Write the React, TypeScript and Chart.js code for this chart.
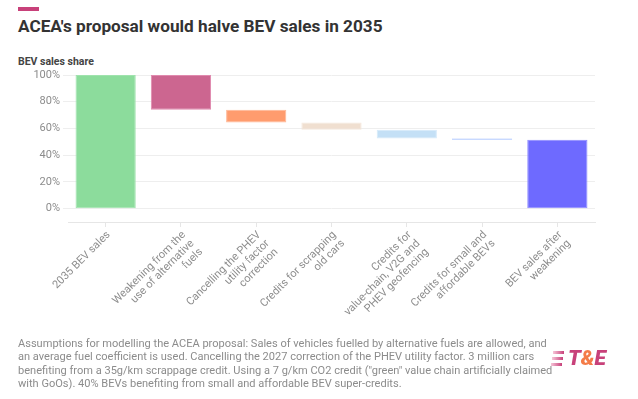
import React, { useEffect, useRef } from "react";
import { Chart, registerables } from "chart.js";

Chart.register(...registerables);

const categories: (string | string[])[] = [
  "2035 BEV sales",
  ["Weakening from the", "use of alternative", "fuels"],
  ["Cancelling the PHEV", "utility factor", "correction"],
  ["Credits for scrapping", "old cars"],
  ["Credits for", "value-chain, V2G and", "PHEV geofencing"],
  ["Credits for small and", "affordable BEVs"],
  ["BEV sales after", "weakening"],
];
const barStart = [0, 74, 64.5, 59, 52.5, 51.5, 0];
const barEnd = [100, 100, 74, 64.5, 59, 52.5, 51.5];
const yTicks = [0, 20, 40, 60, 80, 100];
const fillColors = ["#8cdc9c", "#cc6690", "#ff9c6e", "#f0dfd0", "#c4e0f6", "#a8c4ff", "#6e6aff"];
const edgeColors = ["#9fe3ad", "#e08aae", "#ffb896", "#f5e8dc", "#d6eafa", "#9ebcff", "#8f8cff"];

const footLines = [
  "Assumptions for modelling the ACEA proposal: Sales of vehicles fuelled by alternative fuels are allowed, and",
  "an average fuel coefficient is used. Cancelling the 2027 correction of the PHEV utility factor. 3 million cars",
  "benefiting from a 35g/km scrappage credit. Using a 7 g/km CO2 credit (\"green\" value chain artificially claimed",
  "with GoOs). 40% BEVs benefiting from small and affordable BEV super-credits.",
];

export default function App() {
  const ref = useRef<HTMLCanvasElement>(null);
  useEffect(() => {
    if (!ref.current) return;
    const chart = new Chart(ref.current, {
      type: "bar",
      data: {
        labels: categories,
        datasets: [
          {
            data: barStart.map((s, i) => [s, barEnd[i]]) as any,
            backgroundColor: fillColors,
            borderColor: edgeColors,
            borderWidth: 1,
            borderSkipped: false,
            barPercentage: 0.8,
            categoryPercentage: 1,
          },
        ],
      },
      options: {
        responsive: false,
        animation: false,
        devicePixelRatio: 1,
        layout: { padding: { top: 15, right: 43, left: 0, bottom: 0 } },
        plugins: { legend: { display: false }, tooltip: { enabled: false }, title: { display: false } },
        scales: {
          x: {
            grid: { display: true, drawOnChartArea: false, drawTicks: true, tickLength: 5, offset: false, color: "#e6e6e6" },
            border: { display: true, color: "#e6e6e6" },
            ticks: {
              maxRotation: 45,
              minRotation: 45,
              padding: 2,
              labelOffset: 3,
              color: "#8c8c8c",
              font: { family: "Roboto", size: 11, lineHeight: 1.1 },
            },
            afterFit: (s: any) => {
              s.height = 118;
            },
          },
          y: {
            min: -10,
            max: 100,
            afterBuildTicks: (s: any) => {
              s.ticks = yTicks.map((v) => ({ value: v }));
            },
            grid: { color: "#eeeeee", tickLength: 5, drawTicks: true },
            border: { display: false },
            ticks: {
              padding: 3,
              color: "#8c8c8c",
              font: { family: "Roboto", size: 11 },
              callback: (v: any) => v + "%",
            },
            afterFit: (s: any) => {
              s.width = 68;
            },
          },
        },
      },
    });
    return () => chart.destroy();
  }, []);

  return (
    <div style={{ position: "fixed", left: 0, top: 0, width: 638, height: 399, background: "#fff", fontFamily: "Roboto, sans-serif", overflow: "hidden" }}>
      <div style={{ position: "absolute", left: 18, top: 7, width: 21, height: 4, background: "#c8417a" }} />
      <div style={{ position: "absolute", left: 18, top: 15, fontSize: 17.2, fontWeight: 700, color: "#333", lineHeight: "22px", whiteSpace: "nowrap" }}>
        ACEA's proposal would halve BEV sales in 2035
      </div>
      <div style={{ position: "absolute", left: 18, top: 55, fontSize: 10.5, fontWeight: 700, color: "#444", lineHeight: "14px", whiteSpace: "nowrap" }}>
        BEV sales share
      </div>
      <div style={{ position: "absolute", left: 0, top: 60, width: 638, height: 280 }}>
        <canvas ref={ref} width={638} height={280} style={{ display: "block", width: 638, height: 280 }} />
      </div>
      <div style={{ position: "absolute", left: 18, top: 337, fontSize: 11.05, color: "#8c8c8c", lineHeight: "13.3px", whiteSpace: "nowrap" }}>
        {footLines.map((l, i) => (
          <div key={i}>{l}</div>
        ))}
      </div>
      <div style={{ position: "absolute", left: 551, top: 351 }}>
        {[0, 1, 2].map((i) => (
          <div key={i} style={{ position: "absolute", left: 2 - i, top: i * 6, width: 11, height: 3, background: "linear-gradient(90deg, #f6c6d8, #c8417a)" }} />
        ))}
      </div>
      <div style={{ position: "absolute", left: 568, top: 345, fontSize: 21, fontWeight: 900, fontStyle: "italic", lineHeight: "26px", whiteSpace: "nowrap" }}>
        <span style={{ color: "#c8417a" }}>T</span>
        <span style={{ color: "#f47c48" }}>&amp;</span>
        <span style={{ color: "#c8417a" }}>E</span>
      </div>
    </div>
  );
}
